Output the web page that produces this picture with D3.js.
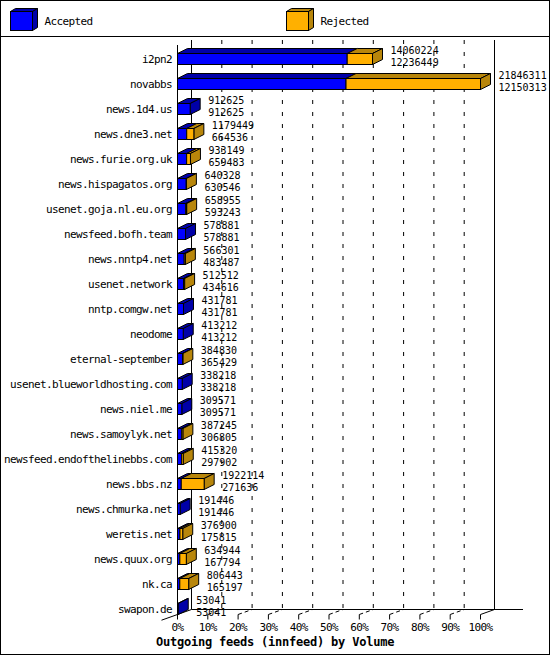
<!DOCTYPE html>
<html>
<head>
<meta charset="utf-8">
<script src="https://cdn.jsdelivr.net/npm/d3@7"></script>
<style>
  body { margin: 0; background: #fff; }
  svg text { font-family: "DejaVu Sans Mono", monospace; font-size: 11px; letter-spacing: -0.62px; fill: #000; }
  svg text.num { font-size: 10px; letter-spacing: 0px; }
  svg text.title { font-weight: bold; font-size: 12px; letter-spacing: -0.22px; }
</style>
</head>
<body>
<svg id="canvas"></svg>
<script>
// feeds, top to bottom
const hosts = ['i2pn2', 'novabbs', 'news.1d4.us', 'news.dne3.net', 'news.furie.org.uk',
  'news.hispagatos.org', 'usenet.goja.nl.eu.org', 'newsfeed.bofh.team', 'news.nntp4.net',
  'usenet.network', 'nntp.comgw.net', 'neodome', 'eternal-september',
  'usenet.blueworldhosting.com', 'news.niel.me', 'news.samoylyk.net',
  'newsfeed.endofthelinebbs.com', 'news.bbs.nz', 'news.chmurka.net', 'weretis.net',
  'news.quux.org', 'nk.ca', 'swapon.de']
const offered = [14060224, 21846311, 912625, 1179449, 933149, 640328, 658955, 578881,
  566301, 512512, 431781, 413212, 384830, 338218, 309571, 387245, 415320, 1922114,
  191446, 376900, 634944, 806443, 53041]
const accepted = [12236449, 12150313, 912625, 664536, 659483, 630546, 593243, 578881,
  483487, 434616, 431781, 413212, 365429, 338218, 309571, 306805, 297902, 271636,
  191446, 175815, 167794, 165197, 53041]
const tickValues = [0, 10, 20, 30, 40, 50, 60, 70, 80, 90, 100]
const tickLabels = ['0%', '10%', '20%', '30%', '40%', '50%', '60%', '70%', '80%', '90%', '100%']
const seriesNames = ['Accepted', 'Rejected']

const width = 550
const height = 655

const front = ['#0000ff', '#ffb000']
const dark = ['#0000a8', '#b8860b']

const svg = d3.select('#canvas').attr('width', width).attr('height', height)

// 3d depth of the plot box and of the bars
const pdx = 14, pdy = 5
const bdx = 10, bdy = 5
const barH = 11
const floorY = 614.5

let x = d3.scaleLinear().domain([0, d3.max(offered)]).range([177.5, 480.5])
let pct = d3.scaleLinear().domain([0, 100]).range([177.5, 480.5])
let y = d3.scaleBand().domain(hosts).range([46.5, 621.5])

// frame and legend
svg.append('rect').attr('x', 0.5).attr('y', 0.5).attr('width', width - 1).attr('height', height - 1)
   .attr('fill', 'none').attr('stroke', '#000')
svg.append('line').attr('x1', 0).attr('x2', width).attr('y1', 36.5).attr('y2', 36.5).attr('stroke', '#000')

let legendX = [10.5, 286.5]
seriesNames.forEach((name, i) => {
  let lx = legendX[i], ly = 11.5, w = 22, h = 19, dx = 5, dy = 3
  let g = svg.append('g')
  g.append('polygon')
   .attr('points', [[lx, ly], [lx + dx, ly - dy], [lx + w + dx, ly - dy], [lx + w, ly]].join(' '))
   .attr('fill', dark[i]).attr('stroke', '#000')
  g.append('polygon')
   .attr('points', [[lx + w, ly], [lx + w + dx, ly - dy], [lx + w + dx, ly + h - dy], [lx + w, ly + h]].join(' '))
   .attr('fill', dark[i]).attr('stroke', '#000')
  g.append('rect').attr('x', lx).attr('y', ly).attr('width', w).attr('height', h)
   .attr('fill', front[i]).attr('stroke', '#000')
  g.append('text').attr('x', lx + 34).attr('y', 25).text(name)
})

// grid on the back wall and the floor
let axis = svg.append('g')
tickValues.forEach((t, i) => {
  let fx = pct(t), bx = pct(t) + pdx
  if (i > 0 && i < tickValues.length - 1) {
    axis.append('line').attr('x1', bx).attr('x2', bx).attr('y1', 40).attr('y2', floorY - pdy)
        .attr('stroke', '#000').attr('stroke-dasharray', '4,8')
    axis.append('line').attr('x1', fx).attr('x2', bx).attr('y1', floorY).attr('y2', floorY - pdy)
        .attr('stroke', '#000').attr('stroke-dasharray', '4,3')
  }
  axis.append('line').attr('x1', fx).attr('x2', fx).attr('y1', floorY).attr('y2', floorY + 5)
      .attr('stroke', '#000')
  axis.append('text').attr('x', fx).attr('y', 631).attr('text-anchor', 'middle').text(tickLabels[i])
})
// walls
axis.append('line').attr('x1', pct(0) + pdx).attr('x2', pct(0) + pdx).attr('y1', 40).attr('y2', floorY - pdy).attr('stroke', '#000')
axis.append('line').attr('x1', pct(100) + pdx).attr('x2', pct(100) + pdx).attr('y1', 40).attr('y2', floorY - pdy).attr('stroke', '#000')
axis.append('line').attr('x1', pct(0)).attr('x2', pct(0)).attr('y1', 40 + pdy).attr('y2', floorY).attr('stroke', '#000')
axis.append('line').attr('x1', pct(0) + pdx).attr('x2', 523).attr('y1', floorY - pdy).attr('y2', floorY - pdy).attr('stroke', '#000')
axis.append('line').attr('x1', pct(0) - 16).attr('x2', pct(0) + pdx).attr('y1', floorY + 5.7).attr('y2', floorY - pdy).attr('stroke', '#000')
axis.append('line').attr('x1', pct(100)).attr('x2', pct(100) + pdx).attr('y1', floorY).attr('y2', floorY - pdy).attr('stroke', '#000')

axis.append('text').attr('class', 'title').attr('x', 156).attr('y', 646)
    .text('Outgoing feeds (innfeed) by Volume')

// bars
let rows = hosts.map((h, i) => ({host: h, offered: offered[i], accepted: accepted[i]}))

let block = svg.selectAll('g.bar')
  .data(rows)
  .enter()
  .append('g')
  .attr('class', 'bar')

block.each(function (d) {
  let g = d3.select(this)
  let top = Math.round(y(d.host) + y.bandwidth() / 2) - 5.5
  let segs = [[0, d.accepted, 0]]
  if (d.offered > d.accepted) segs.push([d.accepted, d.offered, 1])
  segs.forEach(s => {
    let x0 = x(s[0]), x1 = x(s[1])
    g.append('polygon')
     .attr('points', [[x0, top], [x0 + bdx, top - bdy], [x1 + bdx, top - bdy], [x1, top]].join(' '))
     .attr('fill', dark[s[2]]).attr('stroke', '#000')
  })
  let last = segs[segs.length - 1]
  let xe = x(last[1])
  g.append('polygon')
   .attr('points', [[xe, top], [xe + bdx, top - bdy], [xe + bdx, top + barH - bdy], [xe, top + barH]].join(' '))
   .attr('fill', dark[last[2]]).attr('stroke', '#000')
  segs.forEach(s => {
    let x0 = x(s[0]), x1 = x(s[1])
    g.append('rect').attr('x', x0).attr('y', top).attr('width', x1 - x0).attr('height', barH)
     .attr('fill', front[s[2]]).attr('stroke', '#000')
  })
  g.append('text').attr('x', 172).attr('y', top + 9.5).attr('text-anchor', 'end').text(d.host)
  g.append('text').attr('class', 'num').attr('x', xe + 18).attr('y', top).text(d.offered)
  g.append('text').attr('class', 'num').attr('x', xe + 18).attr('y', top + 12).text(d.accepted)
})
</script>
</body>
</html>
